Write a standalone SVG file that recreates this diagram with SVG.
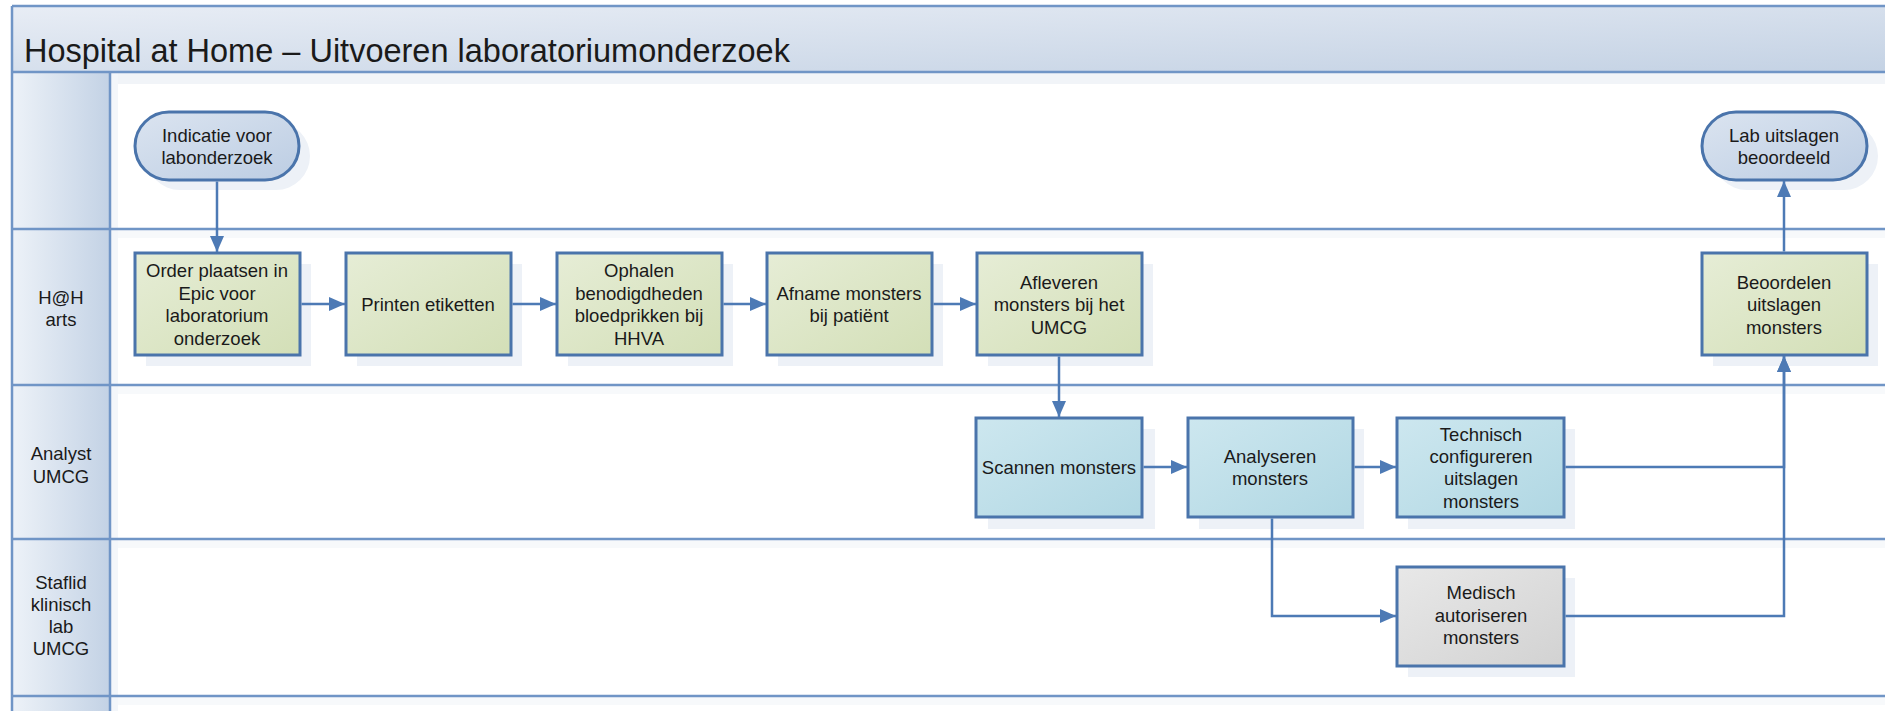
<svg xmlns="http://www.w3.org/2000/svg" width="1885" height="711" viewBox="0 0 1885 711">
<style>
.lbl{font-family:"Liberation Sans",Arial,sans-serif;font-size:18.5px;fill:#1a1a1a;text-anchor:middle}
.ttl{font-family:"Liberation Sans",Arial,sans-serif;font-size:32.5px;fill:#1a1a1a}
.lane{stroke:#7095c6;stroke-width:2.5;fill:none}
.shd{fill:#edf1f7}
.proc{stroke:#4a74ab;stroke-width:3}
.green{fill:url(#gGreen)}
.blue{fill:url(#gBlue)}
.grey{fill:url(#gGrey)}
.term{fill:url(#gTerm);stroke:#4a74ab;stroke-width:3}
.conn{stroke:#4d7ab5;stroke-width:2.5;fill:none}
</style>
<defs>
<linearGradient id="gTitle" x1="0" y1="0" x2="1" y2="1">
<stop offset="0" stop-color="#e8edf5"/><stop offset="1" stop-color="#c4d2e4"/>
</linearGradient>
<linearGradient id="gHead" x1="0" y1="0" x2="1" y2="0">
<stop offset="0" stop-color="#edf2f8"/><stop offset="1" stop-color="#c3d2e5"/>
</linearGradient>
<linearGradient id="gGreen" x1="0" y1="0" x2="1" y2="1">
<stop offset="0" stop-color="#e6edd6"/><stop offset="1" stop-color="#d3dfb7"/>
</linearGradient>
<linearGradient id="gBlue" x1="0" y1="0" x2="1" y2="1">
<stop offset="0" stop-color="#cde7ef"/><stop offset="1" stop-color="#b0d7e3"/>
</linearGradient>
<linearGradient id="gGrey" x1="0" y1="0" x2="1" y2="1">
<stop offset="0" stop-color="#e8e8e8"/><stop offset="1" stop-color="#d2d2d2"/>
</linearGradient>
<linearGradient id="gTerm" x1="0" y1="0" x2="1" y2="1">
<stop offset="0" stop-color="#dbe4f0"/><stop offset="1" stop-color="#bccde3"/>
</linearGradient>
<marker id="arr" viewBox="0 0 16 14" refX="16" refY="7" markerWidth="16" markerHeight="14" markerUnits="userSpaceOnUse" orient="auto">
<path d="M0,0 L16,7 L0,14 Z" fill="#4d7ab5"/>
</marker>
</defs>

<g id="swimlanes">
<rect x="0" y="0" width="1885" height="711" fill="#ffffff"/>
<rect x="12" y="6" width="1880" height="66" fill="url(#gTitle)"/>
<text class="ttl" x="24" y="62">Hospital at Home – Uitvoeren laboratoriumonderzoek</text>
<rect x="12" y="72" width="98" height="645" fill="url(#gHead)"/>
<rect x="110" y="72" width="1780" height="12" fill="#f1f4f8"/>
<rect x="110" y="72" width="8" height="640" fill="#f3f6fa"/>
<rect x="118" y="230" width="1770" height="8" fill="#f7f9fb"/>
<rect x="118" y="386" width="1770" height="8" fill="#f7f9fb"/>
<rect x="118" y="540" width="1770" height="8" fill="#f7f9fb"/>
<rect x="118" y="697" width="1770" height="8" fill="#f7f9fb"/>
<line class="lane" x1="12" y1="6" x2="1885" y2="6"/>
<line class="lane" x1="12" y1="6" x2="12" y2="711"/>
<line class="lane" x1="12" y1="72" x2="1885" y2="72"/>
<line class="lane" x1="110" y1="72" x2="110" y2="711"/>
<line class="lane" x1="12" y1="229" x2="1885" y2="229"/>
<line class="lane" x1="12" y1="385" x2="1885" y2="385"/>
<line class="lane" x1="12" y1="539" x2="1885" y2="539"/>
<line class="lane" x1="12" y1="696" x2="1885" y2="696"/>
<text class="lbl" x="61" y="304">H@H</text>
<text class="lbl" x="61" y="326">arts</text>
<text class="lbl" x="61" y="460">Analyst</text>
<text class="lbl" x="61" y="483">UMCG</text>
<text class="lbl" x="61" y="589">Staflid</text>
<text class="lbl" x="61" y="611">klinisch</text>
<text class="lbl" x="61" y="633">lab</text>
<text class="lbl" x="61" y="655">UMCG</text>
</g>

<g id="n_indicatie">
<rect class="shd" x="146" y="122" width="164" height="68" rx="34"/>
<rect class="term" x="135" y="112" width="164" height="68" rx="34"/>
<text class="lbl" x="217" y="142">Indicatie voor</text>
<text class="lbl" x="217" y="164">labonderzoek</text>
</g>
<g id="n_lab_uitslagen">
<rect class="shd" x="1713" y="122" width="165" height="68" rx="34"/>
<rect class="term" x="1702" y="112" width="165" height="68" rx="34"/>
<text class="lbl" x="1784" y="142">Lab uitslagen</text>
<text class="lbl" x="1784" y="164">beoordeeld</text>
</g>

<g id="n_order">
<rect class="shd" x="146" y="264" width="165" height="102"/>
<rect class="proc green" x="135" y="253" width="165" height="102"/>
<text class="lbl" x="217" y="277">Order plaatsen in</text>
<text class="lbl" x="217" y="300">Epic voor</text>
<text class="lbl" x="217" y="322">laboratorium</text>
<text class="lbl" x="217" y="345">onderzoek</text>
</g>
<g id="n_printen">
<rect class="shd" x="357" y="264" width="165" height="102"/>
<rect class="proc green" x="346" y="253" width="165" height="102"/>
<text class="lbl" x="428" y="311">Printen etiketten</text>
</g>
<g id="n_ophalen">
<rect class="shd" x="568" y="264" width="165" height="102"/>
<rect class="proc green" x="557" y="253" width="165" height="102"/>
<text class="lbl" x="639" y="277">Ophalen</text>
<text class="lbl" x="639" y="300">benodigdheden</text>
<text class="lbl" x="639" y="322">bloedprikken bij</text>
<text class="lbl" x="639" y="345">HHVA</text>
</g>
<g id="n_afname">
<rect class="shd" x="778" y="264" width="165" height="102"/>
<rect class="proc green" x="767" y="253" width="165" height="102"/>
<text class="lbl" x="849" y="300">Afname monsters</text>
<text class="lbl" x="849" y="322">bij patiënt</text>
</g>
<g id="n_afleveren">
<rect class="shd" x="988" y="264" width="165" height="102"/>
<rect class="proc green" x="977" y="253" width="165" height="102"/>
<text class="lbl" x="1059" y="289">Afleveren</text>
<text class="lbl" x="1059" y="311">monsters bij het</text>
<text class="lbl" x="1059" y="334">UMCG</text>
</g>
<g id="n_beoordelen">
<rect class="shd" x="1713" y="264" width="165" height="102"/>
<rect class="proc green" x="1702" y="253" width="165" height="102"/>
<text class="lbl" x="1784" y="289">Beoordelen</text>
<text class="lbl" x="1784" y="311">uitslagen</text>
<text class="lbl" x="1784" y="334">monsters</text>
</g>

<g id="n_scannen">
<rect class="shd" x="988" y="429" width="167" height="100"/>
<rect class="proc blue" x="976" y="418" width="166" height="99"/>
<text class="lbl" x="1059" y="474">Scannen monsters</text>
</g>
<g id="n_analyseren">
<rect class="shd" x="1199" y="429" width="165" height="100"/>
<rect class="proc blue" x="1188" y="418" width="165" height="99"/>
<text class="lbl" x="1270" y="463">Analyseren</text>
<text class="lbl" x="1270" y="485">monsters</text>
</g>
<g id="n_technisch">
<rect class="shd" x="1408" y="429" width="167" height="100"/>
<rect class="proc blue" x="1397" y="418" width="167" height="99"/>
<text class="lbl" x="1481" y="441">Technisch</text>
<text class="lbl" x="1481" y="463">configureren</text>
<text class="lbl" x="1481" y="485">uitslagen</text>
<text class="lbl" x="1481" y="508">monsters</text>
</g>
<g id="n_medisch">
<rect class="shd" x="1408" y="578" width="167" height="99"/>
<rect class="proc grey" x="1397" y="567" width="167" height="99"/>
<text class="lbl" x="1481" y="599">Medisch</text>
<text class="lbl" x="1481" y="622">autoriseren</text>
<text class="lbl" x="1481" y="644">monsters</text>
</g>

<g id="connectors">
<path class="conn" d="M217,181.5 V252" marker-end="url(#arr)"/>
<path class="conn" d="M301.5,304 H345" marker-end="url(#arr)"/>
<path class="conn" d="M512.5,304 H556" marker-end="url(#arr)"/>
<path class="conn" d="M723.5,304 H766" marker-end="url(#arr)"/>
<path class="conn" d="M933.5,304 H976" marker-end="url(#arr)"/>
<path class="conn" d="M1059,356.5 V417" marker-end="url(#arr)"/>
<path class="conn" d="M1143.5,467 H1187" marker-end="url(#arr)"/>
<path class="conn" d="M1354.5,467 H1396" marker-end="url(#arr)"/>
<path class="conn" d="M1565.5,467 H1784 V356" marker-end="url(#arr)"/>
<path class="conn" d="M1272,518.5 V616 H1396" marker-end="url(#arr)"/>
<path class="conn" d="M1565.5,616 H1784 V356" marker-end="url(#arr)"/>
<path class="conn" d="M1784,251.5 V181" marker-end="url(#arr)"/>
</g>
</svg>
